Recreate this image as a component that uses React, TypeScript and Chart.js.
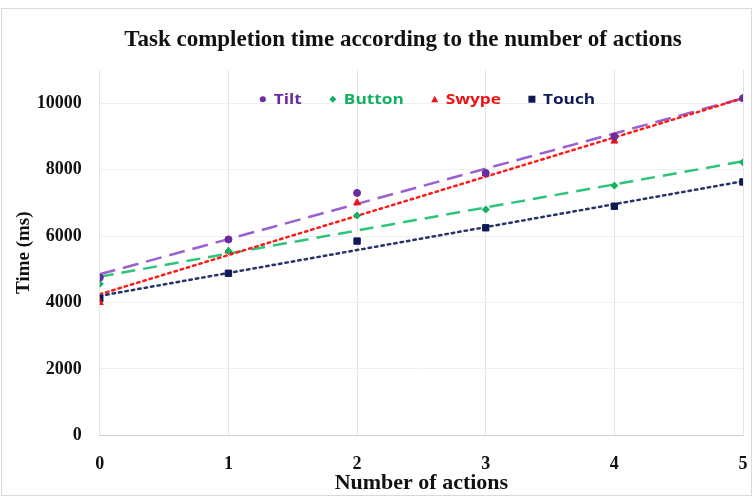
import React, { useEffect, useRef } from "react";
import { Chart, registerables } from "chart.js";

Chart.register(...registerables);

const actions = [0, 1, 2, 3, 4, 5];
const seriesNames = ["Tilt", "Button", "Swype", "Touch"];
const tiltTimes = [4750, 5900, 7300, 7900, 9000, 10150];
const buttonTimes = [4560, 5550, 6620, 6800, 7520, 8220];
const swypeTimes = [4000, 5550, 7000, 7870, 8860, 10150];
const touchTimes = [4120, 4880, 5850, 6250, 6900, 7630];
// trendline end values (at 0 and 5 actions)
const trendX = [0, 5];
const tiltTrend = [4850, 10150];
const buttonTrend = [4780, 8250];
const swypeTrend = [4250, 10150];
const touchTrend = [4200, 7650];
const yTicks = [0, 2000, 4000, 6000, 8000, 10000];
const chartTitle = "Task completion time according to the number of actions";

const pointColors = ["#6a2c9e", "#12b060", "#ee1111", "#0f1a55"];
const lineColors = ["#9b5fd0", "#2ec47a", "#ff1a1a", "#2a3566"];
const pointStyles = ["circle", "rectRot", "triangle", "rect"];
const pointSizes = [3.5, 3.5, 4, 4.5];
const dashes = [[16, 8], [14, 8], [2.5, 4], [2.5, 4]];
const trends = [tiltTrend, buttonTrend, swypeTrend, touchTrend];
const values = [tiltTimes, buttonTimes, swypeTimes, touchTimes];

const serif = "'Liberation Serif', 'Times New Roman', serif";

const titleLegendPlugin = {
  id: "titleLegend",
  afterDraw(chart: any) {
    const ctx = chart.ctx;
    const area = chart.chartArea;
    ctx.save();
    // title
    ctx.font = "bold 23px " + serif;
    ctx.fillStyle = "#111111";
    ctx.textAlign = "center";
    ctx.textBaseline = "middle";
    ctx.fillText(chartTitle, 403, 40);
    // legend
    const y = chart.scales.y.getPixelForValue(10000) - 4;
    let x = area.left + 159;
    const stretch = 1.15;
    ctx.font = "bold 15px 'Open Sans', sans-serif";
    ctx.textAlign = "left";
    seriesNames.forEach((name, i) => {
      ctx.fillStyle = pointColors[i];
      ctx.beginPath();
      const s = 3;
      const cx = x + 4;
      if (pointStyles[i] === "circle") {
        ctx.arc(cx, y, s, 0, Math.PI * 2);
      } else if (pointStyles[i] === "rectRot") {
        ctx.moveTo(cx, y - s - 0.5);
        ctx.lineTo(cx + s + 0.5, y);
        ctx.lineTo(cx, y + s + 0.5);
        ctx.lineTo(cx - s - 0.5, y);
        ctx.closePath();
      } else if (pointStyles[i] === "triangle") {
        ctx.moveTo(cx, y - s - 0.5);
        ctx.lineTo(cx + s + 0.5, y + s);
        ctx.lineTo(cx - s - 0.5, y + s);
        ctx.closePath();
      } else {
        ctx.rect(cx - s - 0.5, y - s - 0.5, 2 * s + 1, 2 * s + 1);
      }
      ctx.fill();
      const tx = cx + 11;
      ctx.save();
      ctx.translate(tx, y + 1);
      ctx.scale(stretch, 1);
      ctx.fillText(name, 0, 0);
      ctx.restore();
      x = tx + ctx.measureText(name).width * stretch + 27;
    });
    ctx.restore();
  },
};

const framePlugin = {
  id: "frame",
  beforeDraw(chart: any) {
    const ctx = chart.ctx;
    ctx.save();
    ctx.fillStyle = "#ffffff";
    ctx.fillRect(0, 0, chart.width, chart.height);
    ctx.strokeStyle = "#d9d9d9";
    ctx.lineWidth = 1;
    ctx.strokeRect(1.5, 8.5, chart.width - 3, chart.height - 11);
    ctx.restore();
  },
};

export default function App() {
  const ref = useRef<HTMLCanvasElement>(null);
  useEffect(() => {
    if (!ref.current) return;
    const datasets: any[] = [];
    seriesNames.forEach((name, i) => {
      datasets.push({
        label: name + " trend",
        data: trendX.map((x, k) => ({ x, y: trends[i][k] })),
        showLine: true,
        borderColor: lineColors[i],
        borderWidth: 2.5,
        borderDash: dashes[i],
        borderCapStyle: i >= 2 ? "round" : "butt",
        pointRadius: 0,
        fill: false,
        order: 10 - i,
      });
    });
    seriesNames.forEach((name, i) => {
      datasets.push({
        label: name,
        data: actions.map((x, k) => ({ x, y: values[i][k] })),
        showLine: false,
        backgroundColor: pointColors[i],
        borderColor: pointColors[i],
        pointStyle: pointStyles[i],
        pointRadius: pointSizes[i],
        order: 1 + i,
      });
    });
    const chart = new Chart(ref.current, {
      type: "scatter",
      data: { datasets },
      plugins: [framePlugin, titleLegendPlugin],
      options: {
        animation: false,
        responsive: false,
        layout: { padding: { left: 10, right: 10, top: 70, bottom: 1 } },
        plugins: {
          legend: { display: false },
          tooltip: { enabled: false },
          title: { display: false },
        },
        scales: {
          x: {
            type: "linear",
            min: 0,
            max: 5,
            afterFit(scale: any) {
              scale.paddingRight = 6;
            },
            ticks: {
              stepSize: 1,
              color: "#111111",
              font: { family: serif, size: 18, weight: "bold" },
              padding: 18,
              callback: (v: any) => String(v),
            },
            grid: { color: "#e4e4e4", drawTicks: false },
            border: { color: "#d0d0d0" },
            title: {
              display: true,
              text: "Number of actions",
              color: "#111111",
              font: { family: serif, size: 22, weight: "bold" },
              padding: { top: -22.4, bottom: 0 },
            },
          },
          y: {
            min: 0,
            max: 11000,
            afterBuildTicks(scale: any) {
              scale.ticks = yTicks.map((v) => ({ value: v }));
            },
            ticks: {
              color: "#111111",
              font: { family: serif, size: 18, weight: "bold" },
              padding: 18,
              callback: (v: any) => String(v),
            },
            grid: { color: "#f0f0f0", drawTicks: false },
            border: { display: false },
            title: {
              display: true,
              text: "Time (ms)",
              color: "#111111",
              font: { family: serif, size: 19, weight: "bold" },
              padding: { top: 3, bottom: -17 },
            },
          },
        },
      },
    });
    return () => chart.destroy();
  }, []);
  return (
    <div style={{ position: "fixed", left: 0, top: 0, width: 753, height: 498, background: "#fff" }}>
      <canvas ref={ref} width={753} height={498} style={{ display: "block" }} />
    </div>
  );
}
